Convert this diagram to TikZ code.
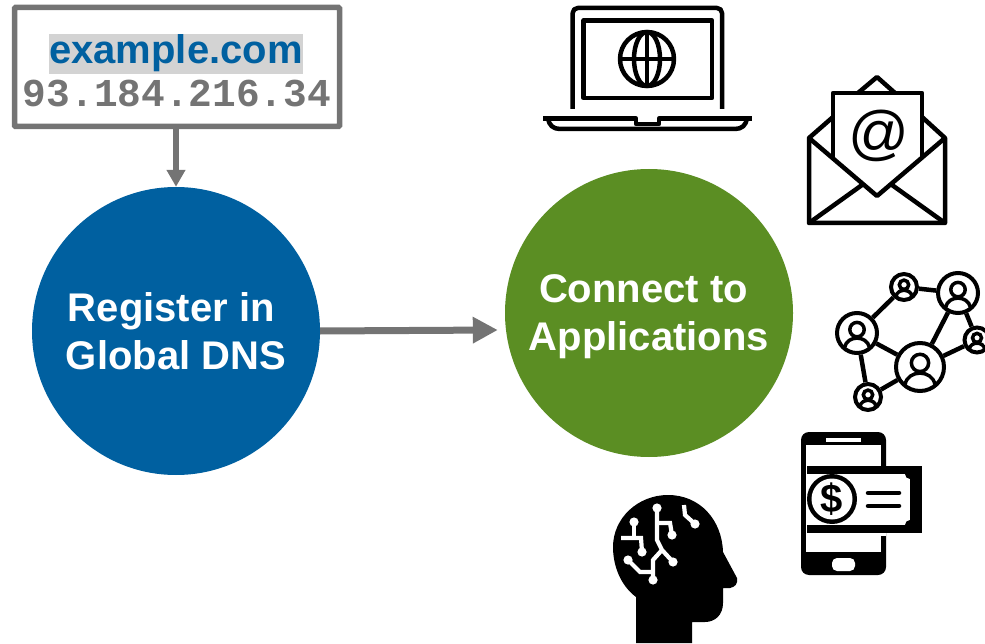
\documentclass[tikz,border=0pt]{standalone}
\usepackage{fontspec}
\setmainfont{Liberation Sans}
\newfontfamily\ipfont{Liberation Mono}
\usetikzlibrary{shapes,arrows.meta,positioning,calc}
\definecolor{darkblue}{RGB}{0,96,160}
\definecolor{darkgreen}{RGB}{91,142,35}
\definecolor{arrowgray}{RGB}{116,116,116}
\definecolor{lightgray}{RGB}{211,211,211}
\tikzset{
  bigcircle/.style={circle,minimum size=288pt,inner sep=0pt,text=white,font=\fontsize{40}{48}\selectfont\bfseries},
  addrline/.style={inner sep=0pt,text height=30pt,text depth=10pt},
  icon/.style={line width=4.5pt,line join=round},
  person/.style={circle,draw,line width=4pt,inner sep=0pt,fill=white},
  trace/.style={white,line width=4.2pt}
}

\begin{document}
\begin{tikzpicture}[x=1pt,y=-1pt,node distance=43pt]
  \useasboundingbox (0,0) rectangle (985,644);
  \clip (0,0) rectangle (985,644);

  \node[bigcircle,fill=darkblue,align=left] (register) at (176,331) {\hspace*{2pt}Register in\\Global DNS};
  \node[bigcircle,fill=darkgreen,align=center] (connect) at (649,313) {\rule{0pt}{36pt}Connect to\hspace*{11pt}\\Applications};

  \node[rectangle,draw=arrowgray,line width=5.5pt,rounded corners=1pt,minimum width=325pt,minimum height=119pt,inner sep=0pt] (addrbox) at (177,67) {};
  \node[addrline,fill=lightgray,minimum width=254pt,text=darkblue,font=\fontsize{40}{48}\selectfont\bfseries] (domain) at (176,54) {example.com};
  \node[addrline,below of=domain,xshift=1pt,text=arrowgray,font=\fontsize{39.5}{48}\selectfont\ipfont\bfseries] (ipaddr) {93.184.216.34};

  \draw[-{Triangle[length=17pt,width=18pt]},arrowgray,line width=6pt] (addrbox.south -| register.north) -- (register.north);
  \draw[-{Triangle[length=25pt,width=25pt]},arrowgray,line width=7pt] (register.east) -- ($(connect.west)+(-7,17)$);

  % laptop
  \draw[icon,rounded corners=5pt] (572.7,109) -- (572.7,8) -- (722,8) -- (722,109);
  \draw[icon] (583.7,20.5) rectangle (712,98);
  \draw[icon] (647,59) circle (27);
  \draw[icon] (647,59) ellipse (13 and 27);
  \draw[icon] (647,32) -- (647,86);
  \draw[icon] (620,59) -- (674,59);
  \draw[icon] (543,118.5) -- (636,118.5) -- (636,124) -- (659,124) -- (659,118.5) -- (752,118.5);
  \draw[icon] (548,118.5) .. controls (549,125) and (553,129) .. (560,129) -- (735,129) .. controls (742,129) and (746,125) .. (747,118.5);

  % mail
  \draw[icon] (833,158) -- (833,93) -- (922,93) -- (922,158);
  \draw[icon] (858,93) -- (877,77) -- (895,93);
  \draw[icon] (833,117) -- (809,138) -- (809,223) -- (945,223) -- (945,138) -- (922,117);
  \draw[icon] (809,138) -- (877,196) -- (945,138);
  \draw[icon] (809,223) -- (862,185);
  \draw[icon] (945,223) -- (892,185);
  \node[inner sep=0pt,font=\fontsize{60}{60}\selectfont\itshape] (at) at (878,136) {@};

  % network
  \foreach \nm/\cx/\cy/\rr in {pa/904/287/13,pb/958/293/20,pc/857/333/20,pd/920/367/24,pe/977/340/12.5,pf/868/397/13}{
    \node[person,minimum size={2*\rr pt}] (\nm) at (\cx,\cy) {};
    \begin{scope}[shift={(\cx,\cy)},scale=\rr]
      \draw[line width=3.5pt] (0,-.17) circle (.36);
      \draw[line width=3.5pt] (-.62,.72) .. controls (-.5,.1) and (.5,.1) .. (.62,.72);
    \end{scope}
  }
  \draw[icon] (pa) -- (pb);
  \draw[icon] (pa) -- (pc);
  \draw[icon] (pc) -- (pd);
  \draw[icon] (pc) -- (pf);
  \draw[icon] (pf) -- (pd);
  \draw[icon] (pd) -- (pb);
  \draw[icon] (pd) -- (pe);
  \draw[icon] (pb) -- (pe);

  % phone and bill
  \fill[rounded corners=8pt] (801,432) rectangle (886,575);
  \fill[white] (806,445) rectangle (881,552);
  \fill[white] (826,438) rectangle (861,442);
  \fill[white,rounded corners=5pt] (832,558) rectangle (855,571);
  \fill[white] (806,533) rectangle (886,536);
  \fill (807,466) rectangle (922,533);
  \fill[white] (807,474) rectangle (910,525);
  \fill (910,474) circle (5);
  \fill (910,525) circle (5);
  \begin{scope}
    \clip (807,466) rectangle (922,533);
    \fill (832,499) circle (25);
    \fill[white] (832,499) circle (20.5);
  \end{scope}
  \node[inner sep=0pt,font=\fontsize{40}{40}\selectfont\bfseries] (dollar) at (832,499) {\$};
  \draw[line width=4.5pt,line cap=round] (868,493) -- (899,493);
  \draw[line width=4.5pt,line cap=round] (868,506) -- (899,506);

  % head
  \fill (636,643) -- (636,597) .. controls (620,585) and (613,565) .. (613,547) .. controls (613,518) and (638,495) .. (668,495) .. controls (700,495) and (722,520) .. (723,552) -- (737,578) .. controls (738,584) and (735,587) .. (730,588) -- (723,588) -- (723,603) .. controls (723,615) and (715,622) .. (705,622) -- (692,622) -- (692,643) -- cycle;
  \draw[trace] (657,508) -- (657,540) -- (662,550) -- (673,562);
  \draw[trace] (662,550) -- (653,560) -- (653,580);
  \draw[trace] (657,523) -- (670,523) -- (672,535);
  \draw[trace] (621,538) -- (641,538) -- (642,552);
  \draw[trace] (634,522) -- (634,538);
  \draw[trace] (628,560) -- (640,572) -- (653,572);
  \draw[trace] (684,505) -- (685,515) -- (695,524);
  \foreach \dx/\dy in {657/508,673/562,653/580,672/535,634/522,642/552,628/560,695/524}{
    \fill[white] (\dx,\dy) circle (4.6);
  }
\end{tikzpicture}
\end{document}
